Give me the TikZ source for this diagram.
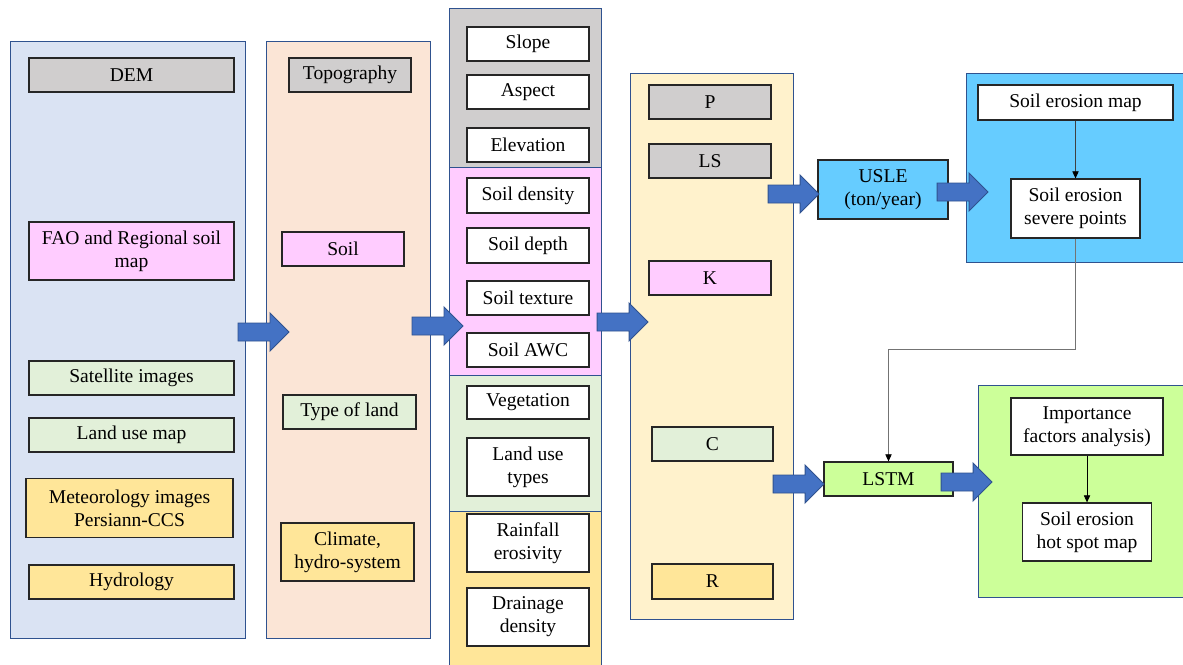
\documentclass[tikz,border=0pt]{standalone}
\usepackage{fontspec}
\setmainfont{Liberation Serif}
\usetikzlibrary{arrows.meta}

\definecolor{panelline}{HTML}{2F528F}
\definecolor{itemline}{HTML}{262626}
\definecolor{bluepanel}{HTML}{DAE3F3}
\definecolor{peach}{HTML}{FBE5D6}
\definecolor{greybox}{HTML}{D0CECE}
\definecolor{pinkbox}{HTML}{FFCCFF}
\definecolor{greenbox}{HTML}{E2F0D9}
\definecolor{yellowbox}{HTML}{FFE699}
\definecolor{cream}{HTML}{FFF2CC}
\definecolor{skyblue}{HTML}{66CCFF}
\definecolor{lime}{HTML}{CCFF99}
\definecolor{arrowblue}{HTML}{4472C4}

\tikzset{
  sz/.style 2 args={minimum width=#1*0.025cm, minimum height=#2*0.025cm},
  panel/.style={draw=panelline, line width=0.7pt, inner sep=0pt},
  item/.style={draw=itemline, line width=0.9pt, inner sep=0pt, align=center,
    text=black, font=\fontsize{13.9}{16.5}\selectfont},
  thinarrow/.style={-{Triangle[length=5pt,width=4.5pt,color=black]}, line width=0.5pt},
  fatarrow/.pic={
    \draw[draw=panelline, line width=0.7pt, fill=arrowblue]
      (0,-9) -- (32,-9) -- (32,-19) -- (51,0) -- (32,19) -- (32,9) -- (0,9) -- cycle;
  }
}

\begin{document}
\begin{tikzpicture}[x=0.025cm, y=-0.025cm]
  \clip (0,0) rectangle (1183,664);
  \fill[white] (0,0) rectangle (1183,664);

  % panels
  \node[panel, fill=bluepanel, sz={235}{597}] (inputs) at (127.5,339.5) {};
  \node[panel, fill=peach, sz={164}{597}] (groups) at (348,339.5) {};
  \node[panel, fill=greybox, sz={152}{159}] (topopart) at (525,87.5) {};
  \node[panel, fill=pinkbox, sz={152}{208}] (soilpart) at (525,271) {};
  \node[panel, fill=greenbox, sz={152}{136}] (landpart) at (525,443) {};
  \node[panel, fill=yellowbox, sz={152}{159}] (climpart) at (525,590.5) {};
  \node[panel, fill=cream, sz={163}{546}] (factors) at (711.5,346) {};
  \node[panel, fill=skyblue, sz={234}{189}] (usleout) at (1083,167.5) {};
  \node[panel, fill=lime, sz={222}{212}] (lstmout) at (1089,491) {};

  % data sources
  \node[item, fill=greybox, sz={205}{34}] (dem) at (131.5,75) {DEM};
  \node[item, fill=pinkbox, sz={205}{58}] (fao) at (131.5,251) {FAO and Regional soil\\map};
  \node[item, fill=greenbox, sz={205}{34}] (sat) at (131.5,378) {Satellite images};
  \node[item, fill=greenbox, sz={205}{34}] (lum) at (131.5,435) {Land use map};
  \node[item, fill=yellowbox, sz={207}{59}] (meteo) at (129.5,508) {Meteorology images\\Persiann-CCS};
  \node[item, fill=yellowbox, sz={205}{34}] (hydro) at (131.5,582) {Hydrology};

  % groups
  \node[item, fill=greybox, sz={122}{34}] (topo) at (350,75) {Topography};
  \node[item, fill=pinkbox, sz={122}{34}] (soil) at (343,249) {Soil};
  \node[item, fill=greenbox, sz={133}{34}] (land) at (349.5,412) {Type of land};
  \node[item, fill=yellowbox, sz={133}{58}] (clim) at (347.5,552) {Climate,\\hydro-system};

  % layers
  \node[item, fill=white, sz={122}{34}] (slope) at (528,44) {Slope};
  \node[item, fill=white, sz={122}{34}] (aspect) at (528,92) {Aspect};
  \node[item, fill=white, sz={122}{34}] (elev) at (528,145) {Elevation};
  \node[item, fill=white, sz={122}{35}] (sdens) at (528,195.5) {Soil density};
  \node[item, fill=white, sz={122}{35}] (sdepth) at (528,245.5) {Soil depth};
  \node[item, fill=white, sz={122}{34}] (stext) at (528,298) {Soil texture};
  \node[item, fill=white, sz={122}{34}] (sawc) at (528,350) {Soil AWC};
  \node[item, fill=white, sz={122}{33}] (veg) at (528,402.5) {Vegetation};
  \node[item, fill=white, sz={122}{58}] (lut) at (528,467) {Land use\\types};
  \node[item, fill=white, sz={122}{58}] (rain) at (528,543) {Rainfall\\erosivity};
  \node[item, fill=white, sz={122}{58}] (drain) at (528,617) {Drainage\\density};

  % USLE factors
  \node[item, fill=greybox, sz={122}{34}] (fp) at (710,102) {P};
  \node[item, fill=greybox, sz={122}{34}] (fls) at (710,161) {LS};
  \node[item, fill=pinkbox, sz={122}{34}] (fk) at (710,278) {K};
  \node[item, fill=greenbox, sz={121}{34}] (fc) at (712.5,444) {C};
  \node[item, fill=yellowbox, sz={121}{35}] (fr) at (712.5,581.5) {R};

  % models and results
  \node[item, fill=skyblue, sz={130}{59}] (usle) at (883,189.5) {USLE\\(ton/year)};
  \node[item, fill=lime, sz={129}{34}] (lstm) at (888.5,479) {LSTM};
  \node[item, fill=white, sz={195}{35}] (emap) at (1075.5,102.5) {Soil erosion map};
  \node[item, fill=white, sz={129}{59}] (severe) at (1075.5,208.5) {Soil erosion\\severe points};
  \node[item, fill=white, sz={152}{57}] (imp) at (1087,426.5) {Importance\\factors analysis)};
  \node[item, fill=white, sz={129}{58}] (hotspot) at (1087,532) {Soil erosion\\hot spot map};

  % thin connectors
  \draw[thinarrow, draw=black!75] (emap.south) -- (severe.north);
  \draw[thinarrow] (imp.south) -- (hotspot.north);
  \coordinate (bend) at (1076,349);
  \draw[thinarrow, draw=black!55] (severe.south) -- (severe.south |- bend) -| (lstm.north);

  % block arrows
  \pic at (238,332) {fatarrow};
  \pic at (412,326) {fatarrow};
  \pic at (597,322) {fatarrow};
  \pic at (768,194) {fatarrow};
  \pic at (937,192) {fatarrow};
  \pic at (773,484) {fatarrow};
  \pic at (941,482) {fatarrow};
\end{tikzpicture}
\end{document}
